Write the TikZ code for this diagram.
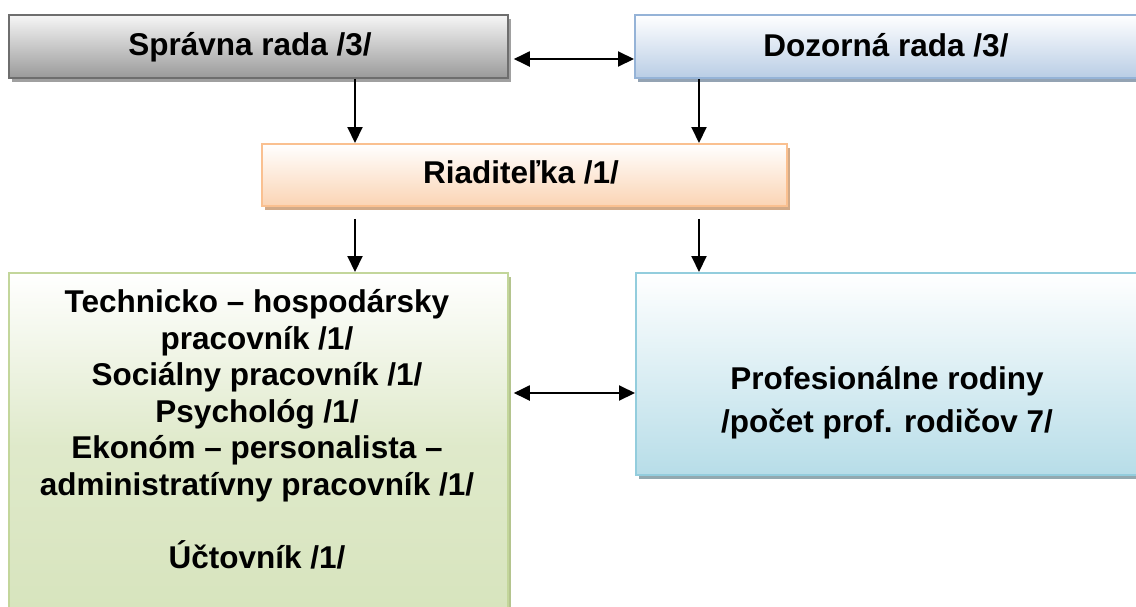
\documentclass[tikz,border=0pt]{standalone}
\usepackage{fontspec}
\setmainfont{Liberation Sans}
\usetikzlibrary{arrows.meta,shadows}
\definecolor{gborder}{HTML}{6E6E6E}
\definecolor{gbot}{HTML}{9A9A9A}
\definecolor{gtop}{HTML}{F6F6F6}
\definecolor{gshad}{HTML}{A0A0A0}
\definecolor{bborder}{HTML}{95B3D7}
\definecolor{bbot}{HTML}{B9CDE5}
\definecolor{bshad}{HTML}{94A3B3}
\definecolor{oborder}{HTML}{FAC090}
\definecolor{obot}{HTML}{FBD4B4}
\definecolor{oshad}{HTML}{D2AA88}
\definecolor{lborder}{HTML}{C3D69B}
\definecolor{lbot}{HTML}{D7E4BD}
\definecolor{lshad}{HTML}{B4C48E}
\definecolor{cborder}{HTML}{93CDDD}
\definecolor{cbot}{HTML}{B7DDE8}
\definecolor{cshad}{HTML}{92A9B0}
\tikzset{
  box/.style={draw, line width=1.8pt, inner sep=0pt, anchor=north west},
  graybox/.style={box, draw=gborder, top color=gtop, bottom color=gbot,
    general shadow={shadow xshift=3pt, shadow yshift=-4pt, fill=gshad}},
  bluebox/.style={box, draw=bborder, top color=white, bottom color=bbot,
    general shadow={shadow xshift=3pt, shadow yshift=-4pt, fill=bshad}},
  orangebox/.style={box, draw=oborder, top color=white, bottom color=obot,
    general shadow={shadow xshift=3pt, shadow yshift=-4pt, fill=oshad}},
  greenbox/.style={box, draw=lborder, top color=white, bottom color=lbot,
    middle color=lbot!80!white,
    general shadow={shadow xshift=3pt, shadow yshift=-4pt, fill=lshad}},
  cyanbox/.style={box, draw=cborder, top color=white, bottom color=cbot,
    general shadow={shadow xshift=3pt, shadow yshift=-4pt, fill=cshad}},
  label/.style={inner sep=0pt, anchor=base, align=center,
    font=\fontsize{31.5}{36.5}\selectfont\bfseries},
  arr/.style={line width=2pt, -{Triangle[length=16pt,width=15pt]}},
  biarr/.style={line width=2pt, {Triangle[length=16pt,width=15pt]}-{Triangle[length=16pt,width=15pt]}}
}
\begin{document}
\begin{tikzpicture}[x=1pt,y=-1pt]
\useasboundingbox (0,0) rectangle (1136,606);
% boxes
\node[graybox, minimum width=499pt, minimum height=63pt] (S) at (8,14) {};
\node[bluebox, minimum width=510pt, minimum height=63pt] (D) at (634,14) {};
\node[orangebox, minimum width=525pt, minimum height=62pt] (R) at (261,143) {};
\node[greenbox, minimum width=499pt, minimum height=345pt] (G) at (8,272) {};
\node[cyanbox, minimum width=510pt, minimum height=202pt] (P) at (635,272) {};
% texts (anchor base = baseline of last line)
\node[label] (St) at (250,55) {Správna rada /3/};
\node[label] (Dt) at (886,56) {Dozorná rada /3/};
\node[label] (Rt) at (521,183) {Riaditeľka /1/};
\node[label] (Gt) at (257,568) {Technicko – hospodársky\\ pracovník /1/\\ Sociálny pracovník /1/\\ Psychológ /1/\\ Ekonóm – personalista –\\ administratívny pracovník /1/\\[36.5pt] Účtovník /1/};
\node[label, font=\fontsize{31.5}{43}\selectfont\bfseries] (Pt) at (887,432) {Profesionálne rodiny\\ /počet prof. rodičov 7/};
% connector x positions
\coordinate (xl) at (355,0);
\coordinate (xr) at (699,0);
\coordinate (ytop) at (0,59);
\coordinate (ymid) at (0,393);
% connectors
\draw[biarr] ([xshift=5pt]S.east |- ytop) -- (D.west |- ytop);
\draw[arr] (S.south -| xl) -- (R.north -| xl);
\draw[arr] (D.south -| xr) -- (R.north -| xr);
\draw[arr] ([yshift=-12pt]R.south -| xl) -- (G.north -| xl);
\draw[arr] ([yshift=-12pt]R.south -| xr) -- (P.north -| xr);
\draw[biarr] ([xshift=5pt]G.east |- ymid) -- (P.west |- ymid);
\end{tikzpicture}
\end{document}
